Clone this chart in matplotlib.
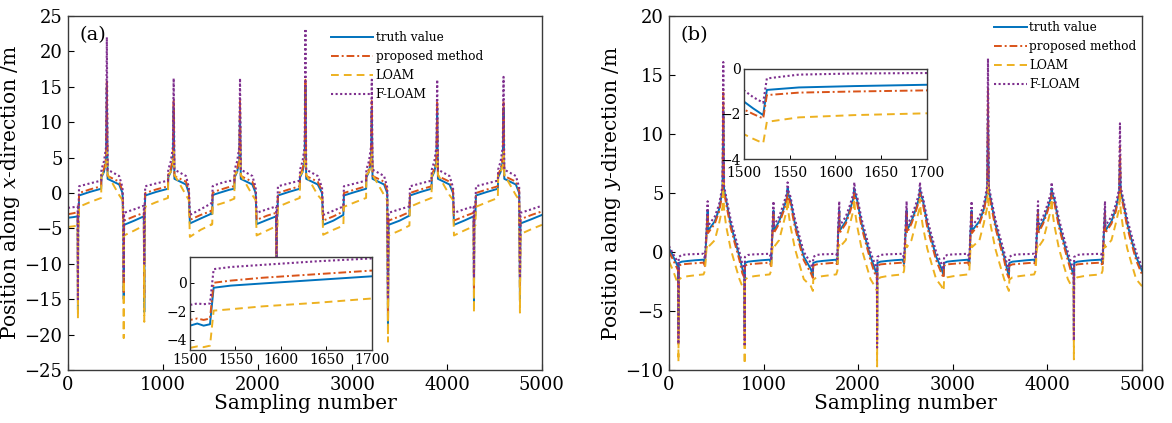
import numpy as np
import matplotlib
matplotlib.use("Agg")
import matplotlib.pyplot as plt

plt.rcParams["font.family"] = ["DejaVu Serif"]
plt.rcParams["mathtext.fontset"] = "dejavuserif"

labels = ["truth value", "proposed method", "LOAM", "F-LOAM"]
colors = ["#0072BD", "#D95319", "#EDB120", "#7E2F8E"]

# ---------------- (a) position along x ----------------
# breakpoints per driving cycle (sampling number)
xa_samples = [
    [0, 60, 102, 105, 108, 113],
    [117, 230, 350, 353, 380, 402, 410, 418, 540, 575, 584, 588, 592, 700, 800, 805, 809],
    [815, 930, 1055, 1058, 1085, 1107, 1115, 1123, 1245, 1275, 1286, 1400, 1500, 1508, 1515, 1522],
    [1526, 1545, 1580, 1640, 1700, 1755, 1758, 1785, 1807, 1815, 1823, 1945, 1980, 1990, 2100, 2196, 2200, 2204, 2210],
    [2215, 2330, 2445, 2448, 2475, 2497, 2505, 2513, 2635, 2680, 2692, 2800, 2905],
    [2911, 3030, 3145, 3148, 3175, 3197, 3205, 3213, 3335, 3368, 3376, 3382, 3500, 3602],
    [3608, 3720, 3835, 3838, 3865, 3887, 3895, 3903, 4025, 4062, 4072, 4180, 4279, 4283, 4287, 4298],
    [4304, 4420, 4535, 4538, 4565, 4587, 4595, 4603, 4725, 4760, 4768, 4774, 4890, 5000],
]
xa_truth = [
    [-3.5, -3.4, -3.3, -16.5, -3.3, -3.3],
    [-0.35, 0.15, 0.6, 2.2, 3.0, 4.5, 15.0, 2.0, 1.2, 0.0, -4.5, -15.0, -4.5, -3.9, -3.3, -16.8, -3.3],
    [-0.35, 0.15, 0.6, 2.2, 3.0, 4.5, 12.0, 2.0, 1.2, 0.0, -4.3, -3.6, -3.0, -2.85, -3.0, -2.9],
    [-0.35, -0.2, -0.05, 0.2, 0.45, 0.6, 2.2, 3.0, 4.5, 12.0, 2.0, 1.2, 0.0, -4.4, -3.8, -3.3, -12.0, -3.3, -3.3],
    [-0.35, 0.15, 0.6, 2.2, 3.0, 4.5, 15.0, 2.0, 1.2, 0.0, -4.5, -3.9, -3.1],
    [-0.35, 0.15, 0.6, 2.2, 3.0, 4.5, 12.0, 2.0, 1.2, 0.0, -19.6, -4.5, -3.9, -3.2],
    [-0.35, 0.15, 0.6, 2.2, 3.0, 4.5, 12.0, 2.0, 1.2, 0.0, -4.5, -3.9, -3.3, -15.3, -3.3, -3.2],
    [-0.35, 0.15, 0.6, 2.2, 3.0, 4.5, 12.0, 2.0, 1.2, 0.0, -15.3, -4.3, -3.7, -3.1],
]
xa_proposed = [
    [-3.0, -2.85, -2.7, -15.5, -2.7, -2.7],
    [0.0, 0.5, 0.95, 2.6, 3.4, 5.0, 16.0, 2.4, 1.6, 0.3, -3.9, -14.0, -3.9, -3.3, -2.8, -15.0, -2.8],
    [0.0, 0.5, 0.95, 2.6, 3.4, 5.0, 13.0, 2.4, 1.6, 0.3, -3.8, -3.1, -2.6, -2.5, -2.6, -2.5],
    [0.0, 0.15, 0.35, 0.6, 0.85, 0.95, 2.6, 3.4, 5.0, 13.0, 2.4, 1.6, 0.3, -3.8, -3.2, -2.8, -11.0, -2.8, -2.8],
    [0.0, 0.5, 0.95, 2.6, 3.4, 5.0, 16.0, 2.4, 1.6, 0.3, -3.9, -3.3, -2.6],
    [0.0, 0.5, 0.95, 2.6, 3.4, 5.0, 13.0, 2.4, 1.6, 0.3, -18.0, -3.9, -3.3, -2.7],
    [0.0, 0.5, 0.95, 2.6, 3.4, 5.0, 13.0, 2.4, 1.6, 0.3, -3.9, -3.3, -2.8, -14.0, -2.8, -2.7],
    [0.0, 0.5, 0.95, 2.6, 3.4, 5.0, 13.0, 2.4, 1.6, 0.3, -14.0, -3.7, -3.1, -2.6],
]
xa_loam = [
    [-4.8, -4.7, -4.6, -17.7, -4.6, -4.6],
    [-1.95, -1.3, -0.7, 2.5, 3.0, 3.8, 6.0, 2.6, -0.3, -1.0, -6.0, -20.5, -6.0, -5.3, -4.6, -18.2, -4.6],
    [-1.95, -1.3, -0.7, 2.5, 3.0, 3.8, 6.0, 2.6, -0.3, -1.0, -6.2, -5.2, -4.55, -4.45, -4.5, -4.4],
    [-1.95, -1.85, -1.65, -1.4, -1.1, -0.8, 2.5, 3.0, 3.8, 6.0, 2.6, -0.3, -1.0, -6.0, -5.3, -4.7, -13.0, -4.7, -4.7],
    [-1.95, -1.3, -0.7, 2.5, 3.0, 3.8, 6.0, 2.6, -0.3, -1.0, -5.9, -5.2, -4.6],
    [-1.95, -1.3, -0.7, 2.5, 3.0, 3.8, 6.0, 2.6, -0.3, -1.0, -21.0, -6.0, -5.3, -4.6],
    [-1.95, -1.3, -0.7, 2.5, 3.0, 3.8, 6.0, 2.6, -0.3, -1.0, -6.0, -5.3, -4.7, -16.9, -4.7, -4.6],
    [-1.95, -1.3, -0.7, 2.5, 3.0, 3.8, 6.0, 2.6, -0.3, -1.0, -16.9, -5.8, -5.1, -4.5],
]
xa_floam = [
    [-2.1, -2.0, -1.9, -15.0, -1.9, -1.9],
    [0.95, 1.35, 1.75, 3.3, 4.5, 6.5, 22.0, 3.3, 2.4, 0.8, -2.8, -12.0, -2.8, -2.3, -1.8, -10.0, -1.8],
    [0.95, 1.35, 1.75, 3.3, 4.5, 6.5, 16.2, 3.3, 2.4, 0.8, -3.1, -2.3, -1.55, -1.45, -1.5, -1.45],
    [0.95, 1.1, 1.25, 1.5, 1.7, 1.75, 3.3, 4.5, 6.5, 16.2, 3.3, 2.4, 0.8, -2.8, -2.3, -1.9, -10.0, -1.9, -1.9],
    [0.95, 1.35, 1.75, 3.3, 4.5, 6.5, 23.2, 3.3, 2.4, 0.8, -3.1, -2.5, -1.9],
    [0.95, 1.35, 1.75, 3.3, 4.5, 6.5, 16.0, 3.3, 2.4, 0.8, -15.0, -2.8, -2.3, -1.9],
    [0.95, 1.35, 1.75, 3.3, 4.5, 6.5, 16.0, 3.3, 2.4, 0.8, -2.8, -2.3, -1.9, -12.0, -1.9, -1.8],
    [0.95, 1.35, 1.75, 3.3, 4.5, 6.5, 16.4, 3.3, 2.4, 0.8, -12.0, -2.8, -2.3, -1.8],
]

# ---------------- (b) position along y ----------------
yb_samples = [
    [0, 40, 75, 98, 100, 103],
    [135, 200, 280, 365, 380, 397, 409, 412, 484, 529, 566, 574, 582, 604, 651, 697, 745, 775, 798, 800, 803],
    [835, 900, 980, 1065, 1080, 1093, 1105, 1108, 1164, 1209, 1246, 1254, 1262, 1284, 1331, 1377, 1425, 1500, 1510, 1521, 1525],
    [1560, 1620, 1700, 1768, 1780, 1788, 1800, 1803, 1869, 1914, 1951, 1959, 1967, 1989, 2036, 2082, 2130, 2175, 2198, 2200, 2203],
    [2235, 2300, 2380, 2470, 2485, 2500, 2512, 2515, 2563, 2608, 2645, 2653, 2661, 2683, 2730, 2776, 2824, 2880, 2903, 2908],
    [2940, 3005, 3085, 3160, 3175, 3187, 3199, 3202, 3282, 3327, 3364, 3372, 3380, 3402, 3449, 3495, 3543, 3572, 3593, 3598],
    [3630, 3700, 3780, 3860, 3875, 3889, 3901, 3904, 3955, 4000, 4037, 4045, 4053, 4075, 4122, 4168, 4216, 4255, 4278, 4280, 4283],
    [4315, 4380, 4460, 4568, 4583, 4597, 4609, 4612, 4677, 4722, 4759, 4767, 4775, 4797, 4844, 4890, 4938, 5000],
]
yb_truth = [
    [0.3, -0.3, -0.9, -1.3, -6.5, -0.93],
    [-0.82, -0.76, -0.70, -0.65, -1.0, 1.6, 3.5, 1.8, 2.6, 3.6, 5.2, 12.0, 5.3, 4.4, 2.4, 1.0, -0.4, -1.4, -2.0, -6.5, -0.93],
    [-0.82, -0.76, -0.70, -0.65, -1.0, 1.6, 3.5, 1.8, 2.6, 3.6, 4.6, 5.4, 4.9, 4.4, 2.4, 1.0, -0.4, -1.45, -1.75, -2.05, -0.93],
    [-0.82, -0.76, -0.70, -0.65, -1.0, 1.6, 3.5, 1.8, 2.6, 3.6, 4.6, 5.4, 4.9, 4.4, 2.4, 1.0, -0.4, -1.4, -2.0, -6.5, -0.93],
    [-0.82, -0.76, -0.70, -0.65, -1.0, 1.6, 3.5, 1.8, 2.6, 3.6, 4.6, 5.4, 4.9, 4.4, 2.4, 1.0, -0.4, -1.4, -2.0, -0.93],
    [-0.82, -0.76, -0.70, -0.65, -1.0, 1.6, 3.5, 1.8, 2.6, 3.6, 5.2, 12.0, 5.3, 4.4, 2.4, 1.0, -0.4, -1.4, -2.0, -0.93],
    [-0.82, -0.76, -0.70, -0.65, -1.0, 1.6, 3.5, 1.8, 2.6, 3.6, 4.6, 5.4, 4.9, 4.4, 2.4, 1.0, -0.4, -1.4, -2.0, -6.5, -0.93],
    [-0.82, -0.76, -0.70, -0.65, -1.0, 1.6, 3.5, 1.8, 2.6, 3.6, 5.0, 8.0, 5.1, 4.4, 2.4, 1.0, -0.4, -1.6],
]
yb_proposed = [
    [0.0, -0.6, -1.2, -1.6, -7.5, -1.16],
    [-1.05, -1.0, -0.95, -0.9, -1.2, 1.4, 3.3, 1.6, 2.4, 3.4, 5.0, 13.5, 5.1, 4.1, 2.1, 0.7, -0.7, -1.8, -2.2, -7.5, -1.16],
    [-1.05, -1.0, -0.95, -0.9, -1.2, 1.4, 3.3, 1.6, 2.4, 3.4, 4.4, 5.0, 4.6, 4.1, 2.1, 0.7, -0.7, -1.8, -2.0, -2.2, -1.16],
    [-1.05, -1.0, -0.95, -0.9, -1.2, 1.4, 3.3, 1.6, 2.4, 3.4, 4.4, 5.0, 4.6, 4.1, 2.1, 0.7, -0.7, -1.8, -2.2, -7.5, -1.16],
    [-1.05, -1.0, -0.95, -0.9, -1.2, 1.4, 3.3, 1.6, 2.4, 3.4, 4.4, 5.0, 4.6, 4.1, 2.1, 0.7, -0.7, -1.8, -2.2, -1.16],
    [-1.05, -1.0, -0.95, -0.9, -1.2, 1.4, 3.3, 1.6, 2.4, 3.4, 5.0, 14.0, 5.1, 4.1, 2.1, 0.7, -0.7, -1.8, -2.2, -1.16],
    [-1.05, -1.0, -0.95, -0.9, -1.2, 1.4, 3.3, 1.6, 2.4, 3.4, 4.4, 5.0, 4.6, 4.1, 2.1, 0.7, -0.7, -1.8, -2.2, -7.5, -1.16],
    [-1.05, -1.0, -0.95, -0.9, -1.2, 1.4, 3.3, 1.6, 2.4, 3.4, 4.8, 9.0, 4.9, 4.1, 2.1, 0.7, -0.7, -1.9],
]
yb_loam = [
    [-0.8, -1.5, -2.3, -2.8, -9.3, -2.35],
    [-2.15, -2.05, -1.97, -1.9, -1.6, 0.3, 0.6, 0.4, 1.0, 2.4, 3.8, 6.0, 3.6, 2.2, 0.3, -1.0, -2.3, -2.9, -3.3, -9.5, -2.35],
    [-2.15, -2.05, -1.97, -1.9, -1.6, 0.3, 0.6, 0.4, 1.0, 2.4, 3.6, 4.5, 3.4, 2.2, 0.3, -1.0, -2.3, -2.9, -3.1, -3.3, -2.35],
    [-2.15, -2.05, -1.97, -1.9, -1.6, 0.3, 0.6, 0.4, 1.0, 2.4, 3.6, 4.5, 3.4, 2.2, 0.3, -1.0, -2.3, -2.9, -3.3, -9.7, -2.35],
    [-2.15, -2.05, -1.97, -1.9, -1.6, 0.3, 0.6, 0.4, 1.0, 2.4, 3.6, 4.5, 3.4, 2.2, 0.3, -1.0, -2.3, -2.9, -3.3, -2.35],
    [-2.15, -2.05, -1.97, -1.9, -1.6, 0.3, 0.6, 0.4, 1.0, 2.4, 3.8, 6.0, 3.6, 2.2, 0.3, -1.0, -2.3, -2.9, -3.3, -2.35],
    [-2.15, -2.05, -1.97, -1.9, -1.6, 0.3, 0.6, 0.4, 1.0, 2.4, 3.6, 4.5, 3.4, 2.2, 0.3, -1.0, -2.3, -2.9, -3.3, -9.1, -2.35],
    [-2.15, -2.05, -1.97, -1.9, -1.6, 0.3, 0.6, 0.4, 1.0, 2.4, 3.7, 5.0, 3.5, 2.2, 0.3, -1.0, -2.3, -2.9],
]
yb_floam = [
    [0.5, -0.1, -0.6, -1.0, -7.8, -0.42],
    [-0.25, -0.2, -0.18, -0.15, -0.6, 2.0, 4.3, 2.2, 3.0, 4.0, 5.6, 16.1, 5.6, 4.7, 2.8, 1.4, 0.0, -1.0, -1.5, -8.0, -0.42],
    [-0.25, -0.2, -0.18, -0.15, -0.6, 2.0, 4.3, 2.2, 3.0, 4.0, 5.0, 5.9, 5.2, 4.7, 2.8, 1.4, 0.0, -0.95, -1.25, -1.5, -0.42],
    [-0.25, -0.2, -0.18, -0.15, -0.6, 2.0, 4.3, 2.2, 3.0, 4.0, 5.0, 5.9, 5.2, 4.7, 2.8, 1.4, 0.0, -1.0, -1.5, -8.1, -0.42],
    [-0.25, -0.2, -0.18, -0.15, -0.6, 2.0, 4.3, 2.2, 3.0, 4.0, 5.0, 5.9, 5.2, 4.7, 2.8, 1.4, 0.0, -1.0, -1.5, -0.42],
    [-0.25, -0.2, -0.18, -0.15, -0.6, 2.0, 4.3, 2.2, 3.0, 4.0, 5.6, 16.4, 5.6, 4.7, 2.8, 1.4, 0.0, -1.0, -1.5, -0.42],
    [-0.25, -0.2, -0.18, -0.15, -0.6, 2.0, 4.3, 2.2, 3.0, 4.0, 5.0, 5.9, 5.2, 4.7, 2.8, 1.4, 0.0, -1.0, -1.5, -7.5, -0.42],
    [-0.25, -0.2, -0.18, -0.15, -0.6, 2.0, 4.3, 2.2, 3.0, 4.0, 5.4, 10.9, 5.5, 4.7, 2.8, 1.4, 0.0, -1.3],
]


def flat(parts):
    return np.concatenate([np.asarray(p, dtype=float) for p in parts])


styles = [
    dict(ls="-", lw=1.4),
    dict(ls=(0, (4.0, 1.5, 1.0, 1.5)), lw=1.4),
    dict(ls=(0, (4.0, 2.6)), lw=1.4),
    dict(ls=(0, (1.0, 1.2)), lw=1.5),
]


def draw(ax, s, series):
    for y, lab, c, st in zip(series, labels, colors, styles):
        ax.plot(s, y, color=c, label=lab, **st)


def frame(ax, lw=1.0):
    for sp in ax.spines.values():
        sp.set_color("#3a3a3a")
        sp.set_linewidth(lw)


fig = plt.figure(figsize=(11.72, 4.23), dpi=100)

xs = flat(xa_samples)
xa_series = [flat(xa_truth), flat(xa_proposed), flat(xa_loam), flat(xa_floam)]
ys = flat(yb_samples)
yb_series = [flat(yb_truth), flat(yb_proposed), flat(yb_loam), flat(yb_floam)]

ax1 = fig.add_axes([0.058, 0.1253, 0.4044, 0.8369])
ax2 = fig.add_axes([0.5708, 0.1253, 0.4036, 0.8369])

draw(ax1, xs, xa_series)
draw(ax2, ys, yb_series)

ax1.set_xlim(0, 5000)
ax1.set_ylim(-25, 25)
ax1.set_yticks(np.arange(-25, 26, 5))
ax1.set_ylabel("Position along $x$-direction /m", fontsize=14.5, labelpad=2)
ax2.set_xlim(0, 5000)
ax2.set_ylim(-10, 20)
ax2.set_yticks(np.arange(-10, 21, 5))
ax2.set_ylabel("Position along $y$-direction /m", fontsize=14.5, labelpad=2)

for ax, tag, leg_anchor, hl in [(ax1, "(a)", (0.555, 0.958), 3.5),
                                (ax2, "(b)", (0.687, 0.985), 2.7)]:
    ax.set_xticks(np.arange(0, 5001, 1000))
    ax.set_xlabel("Sampling number", fontsize=14.5, labelpad=0)
    ax.tick_params(direction="in", length=4, width=0.8, labelsize=13, pad=4)
    frame(ax)
    ax.text(0.025, 0.945, tag, transform=ax.transAxes, fontsize=14,
            ha="left", va="center")
    ax.legend(loc="upper left", bbox_to_anchor=leg_anchor, frameon=False,
              fontsize=8.7, handlelength=hl, handletextpad=0.2,
              labelspacing=0.5, borderpad=0.0, borderaxespad=0.0)

# zoomed views of the jump near sample 1525
in1 = fig.add_axes([0.1621, 0.1726, 0.1553, 0.2199])
draw(in1, xs, xa_series)
in1.set_xlim(1500, 1700)
in1.set_ylim(-4.7, 1.8)
in1.set_yticks([-4, -2, 0])

in2 = fig.add_axes([0.6348, 0.6241, 0.1561, 0.2128])
draw(in2, ys, yb_series)
in2.set_xlim(1500, 1700)
in2.set_ylim(-4, 0)
in2.set_yticks([-4, -2, 0])

for ax, xpad in ((in1, 2), (in2, 5)):
    ax.set_xticks([1500, 1550, 1600, 1650, 1700])
    ax.tick_params(direction="in", length=3, width=0.7, labelsize=10, pad=2)
    ax.tick_params(axis="x", pad=xpad)
    frame(ax, 1.0)

fig.savefig("out.png", dpi=100)
